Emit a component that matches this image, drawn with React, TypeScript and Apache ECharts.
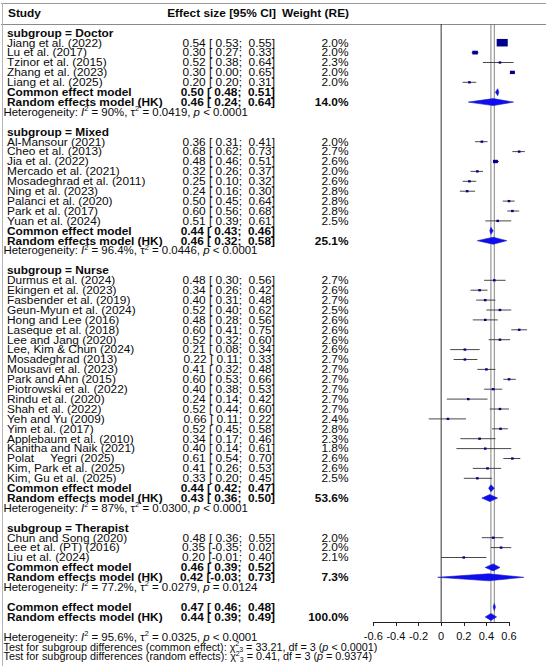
import React, { useEffect, useRef } from "react";
import * as echarts from "echarts";

// ---------------- Doctor ----------------
const doctorNames = ["Jiang et al. (2022)", "Lu et al. (2017)", "Tzinor et al. (2015)", "Zhang et al. (2023)", "Liang et al. (2025)"];
const doctorEst = [0.54, 0.3, 0.52, 0.3, 0.2];
const doctorLo = [0.53, 0.27, 0.38, 0.0, 0.2];
const doctorHi = [0.55, 0.33, 0.64, 0.65, 0.31];
const doctorWeight = [2.0, 2.0, 2.3, 2.0, 2.0];
const doctorPlotEst = [0.54, 0.3, 0.52, 0.63, 0.25];
const doctorPlotLo = [0.53, 0.27, 0.37, 0.61, 0.19];
const doctorPlotHi = [0.55, 0.33, 0.64, 0.65, 0.31];
const doctorCommonWeight = [40, 10, 0.8, 8, 1.5];

// ---------------- Mixed ----------------
const mixedNames = ["Al-Mansour (2021)", "Cheo et al. (2013)", "Jia et al. (2022)", "Mercado et al. (2021)", "Mosadeghrad et al. (2011)", "Ning et al. (2023)", "Palanci et al. (2020)", "Park et al. (2017)", "Yuan et al. (2024)"];
const mixedEst = [0.36, 0.68, 0.48, 0.32, 0.25, 0.24, 0.5, 0.6, 0.51];
const mixedLo = [0.31, 0.62, 0.46, 0.26, 0.1, 0.16, 0.45, 0.56, 0.39];
const mixedHi = [0.41, 0.73, 0.51, 0.37, 0.32, 0.3, 0.64, 0.68, 0.61];
const mixedWeight = [2.0, 2.7, 2.6, 2.0, 2.6, 2.8, 2.8, 2.8, 2.5];
const mixedPlotEst = [0.36, 0.69, 0.48, 0.32, 0.25, 0.23, 0.6, 0.63, 0.5];
const mixedPlotLo = [0.3, 0.63, 0.46, 0.26, 0.19, 0.165, 0.545, 0.585, 0.39];
const mixedPlotHi = [0.41, 0.74, 0.51, 0.37, 0.31, 0.3, 0.65, 0.69, 0.62];
const mixedCommonWeight = [1.6, 1.3, 8, 1.5, 1.3, 1.3, 1.3, 1.3, 0.8];

// ---------------- Nurse ----------------
const nurseNames = ["Durmus et al. (2024)", "Ekingen et al. (2023)", "Fasbender et al. (2019)", "Geun-Myun et al. (2024)", "Hong and Lee (2016)", "Laseque et al. (2018)", "Lee and Jang (2020)", "Lee, Kim & Chun (2024)", "Mosadeghrad (2013)", "Mousavi et al. (2023)", "Park and Ahn (2015)", "Piotrowski et al. (2022)", "Rindu et al. (2020)", "Shah et al. (2022)", "Yeh and Yu (2009)", "Yim et al. (2017)", "Applebaum et al. (2010)", "Kanitha and Naik (2021)", "Polat     Yegri (2025)", "Kim, Park et al. (2025)", "Kim, Gu et al. (2025)"];
const nurseEst = [0.48, 0.34, 0.4, 0.52, 0.48, 0.6, 0.52, 0.21, 0.22, 0.41, 0.6, 0.4, 0.24, 0.52, 0.66, 0.52, 0.34, 0.4, 0.61, 0.41, 0.33];
const nurseLo = [0.3, 0.26, 0.31, 0.4, 0.28, 0.41, 0.32, 0.08, 0.11, 0.32, 0.53, 0.38, 0.14, 0.44, 0.11, 0.45, 0.17, 0.14, 0.54, 0.26, 0.2];
const nurseHi = [0.56, 0.42, 0.48, 0.62, 0.56, 0.75, 0.6, 0.34, 0.33, 0.48, 0.66, 0.53, 0.42, 0.6, 0.22, 0.58, 0.46, 0.61, 0.7, 0.53, 0.45];
const nurseWeight = [2.7, 2.6, 2.7, 2.5, 2.6, 2.6, 2.6, 2.6, 2.7, 2.7, 2.7, 2.7, 2.7, 2.7, 2.4, 2.8, 2.3, 1.8, 2.6, 2.6, 2.5];
const nursePlotEst = [0.47, 0.34, 0.39, 0.52, 0.39, 0.69, 0.52, 0.21, 0.21, 0.4, 0.6, 0.46, 0.24, 0.52, 0.06, 0.525, 0.34, 0.39, 0.63, 0.41, 0.32];
const nursePlotLo = [0.38, 0.26, 0.31, 0.4, 0.28, 0.62, 0.42, 0.08, 0.11, 0.32, 0.55, 0.38, 0.05, 0.43, -0.11, 0.45, 0.17, 0.135, 0.55, 0.28, 0.2];
const nursePlotHi = [0.57, 0.41, 0.48, 0.62, 0.5, 0.76, 0.61, 0.34, 0.32, 0.48, 0.66, 0.54, 0.41, 0.6, 0.22, 0.59, 0.48, 0.62, 0.7, 0.53, 0.45];
const nurseCommonWeight = [1, 1, 1, 1, 1, 1, 1, 1, 1, 1, 1.2, 1, 0.8, 1, 0.8, 1.2, 0.8, 0.6, 1, 1, 1];

// ---------------- Therapist ----------------
const therapistNames = ["Chun and Song (2020)", "Lee et al. (PT) (2016)", "Liu et al. (2024)"];
const therapistEst = [0.48, 0.35, 0.2];
const therapistLo = [0.36, -0.35, -0.01];
const therapistHi = [0.55, 0.02, 0.4];
const therapistWeight = [2.0, 2.0, 2.1];
const therapistPlotEst = [0.46, 0.53, 0.2];
const therapistPlotLo = [0.36, 0.44, 0.0];
const therapistPlotHi = [0.55, 0.62, 0.4];
const therapistCommonWeight = [1, 1, 0.8];

// ---------------- Subgroup summaries ----------------
const subgroupLabels = ["Doctor", "Mixed", "Nurse", "Therapist"];
const commonEst = [0.5, 0.44, 0.44, 0.46];
const commonLo = [0.48, 0.43, 0.42, 0.39];
const commonHi = [0.51, 0.46, 0.47, 0.52];
const randomEst = [0.46, 0.46, 0.43, 0.42];
const randomLo = [0.24, 0.32, 0.36, -0.03];
const randomHi = [0.64, 0.58, 0.5, 0.73];
const randomWeight = [14.0, 25.1, 53.6, 7.3];
const hetI2 = ["90%", "96.4%", "87%", "77.2%"];
const hetTau2 = ["0.0419", "0.0446", "0.0300", "0.0279"];
const hetP = ["< 0.0001", "< 0.0001", "< 0.0001", "= 0.0124"];

// ---------------- Overall ----------------
const overallCommon = [0.47, 0.46, 0.48];
const overallRandom = [0.44, 0.39, 0.49];
const overallWeight = 100.0;
const overallHet = ["95.6%", "0.0325", "< 0.0001"];
const testLabels = ["common effect", "random effects"];
const testChi = ["33.21", "0.41"];
const testDf = [3, 3];
const testP = ["< 0.0001", "= 0.9374"];

// ---------------- axis ----------------
const xTicks = [-0.6, -0.4, -0.2, 0, 0.2, 0.4, 0.6];
const refLines = [0, overallRandom[0], overallCommon[0]];

const groups = [
  { names: doctorNames, est: doctorEst, lo: doctorLo, hi: doctorHi, w: doctorWeight, pe: doctorPlotEst, pl: doctorPlotLo, ph: doctorPlotHi, cw: doctorCommonWeight },
  { names: mixedNames, est: mixedEst, lo: mixedLo, hi: mixedHi, w: mixedWeight, pe: mixedPlotEst, pl: mixedPlotLo, ph: mixedPlotHi, cw: mixedCommonWeight },
  { names: nurseNames, est: nurseEst, lo: nurseLo, hi: nurseHi, w: nurseWeight, pe: nursePlotEst, pl: nursePlotLo, ph: nursePlotHi, cw: nurseCommonWeight },
  { names: therapistNames, est: therapistEst, lo: therapistLo, hi: therapistHi, w: therapistWeight, pe: therapistPlotEst, pl: therapistPlotLo, ph: therapistPlotHi, cw: therapistCommonWeight },
];

const FONT = '"Liberation Sans", Arial, Helvetica, sans-serif';
const SX = 1.08;
const FS = 11;
const FS_HET = 10.4;
const SX_HET = 1.1;
const SX_TEST = 1.04;
const TXT = "#0a0a0a";

const fmtNum = (v: number) => (v < 0 ? "" : " ") + v.toFixed(2);
const fmtCI = (e: number, l: number, h: number) => `${e.toFixed(2)} [${fmtNum(l)}; ${fmtNum(h)}]`;
const fmtW = (w: number) => w.toFixed(1) + "%";
const hetRich = (i2: string, t2: string, p: string) =>
  `{n|Heterogeneity: }{i|I}{s|2}{n| = ${i2}, τ}{s|2}{n| = ${t2}, }{i|p}{n| ${p}}`;

type RowSpec = {
  row: number;
  name?: string;
  bold?: boolean;
  eff?: string;
  weight?: string;
  rich?: string;
  test?: boolean;
  header?: boolean;
};

function buildRows() {
  const rows: RowSpec[] = [];
  const studies: number[][] = [];
  const diamonds: number[][] = [];
  rows.push({ row: 0, header: true });
  let r = 2;
  groups.forEach((g, gi) => {
    rows.push({ row: r, name: "subgroup = " + subgroupLabels[gi], bold: true });
    r++;
    g.names.forEach((nm, i) => {
      rows.push({ row: r, name: nm, eff: fmtCI(g.est[i], g.lo[i], g.hi[i]), weight: fmtW(g.w[i]) });
      studies.push([g.pe[i], g.pl[i], g.ph[i], r, g.cw[i]]);
      r++;
    });
    rows.push({ row: r, name: "Common effect model", bold: true, eff: fmtCI(commonEst[gi], commonLo[gi], commonHi[gi]) });
    diamonds.push([commonEst[gi], commonLo[gi], commonHi[gi], r]);
    rows.push({ row: r + 1, name: "Random effects model (HK)", bold: true, eff: fmtCI(randomEst[gi], randomLo[gi], randomHi[gi]), weight: fmtW(randomWeight[gi]) });
    diamonds.push([randomEst[gi], randomLo[gi], randomHi[gi], r + 1]);
    rows.push({ row: r + 2, rich: hetRich(hetI2[gi], hetTau2[gi], hetP[gi]) });
    r += 4;
  });
  rows.push({ row: r, name: "Common effect model", bold: true, eff: fmtCI(overallCommon[0], overallCommon[1], overallCommon[2]) });
  diamonds.push([overallCommon[0], overallCommon[1], overallCommon[2], r]);
  rows.push({ row: r + 1, name: "Random effects model (HK)", bold: true, eff: fmtCI(overallRandom[0], overallRandom[1], overallRandom[2]), weight: fmtW(overallWeight) });
  diamonds.push([overallRandom[0], overallRandom[1], overallRandom[2], r + 1]);
  rows.push({ row: r + 3, rich: hetRich(overallHet[0], overallHet[1], overallHet[2]) });
  testLabels.forEach((lab, k) => {
    rows.push({
      row: r + 4 + k,
      test: true,
      rich: `{n|Test for subgroup differences (${lab}): χ}{s|2}{b|${testDf[k]}}{n| = ${testChi[k]}, df = ${testDf[k]} (}{i|p}{n| ${testP[k]})}`,
    });
  });
  return { rows, studies, diamonds };
}

export default function App() {
  const ref = useRef<HTMLDivElement>(null);
  useEffect(() => {
    if (!ref.current) return;
    const chart = echarts.init(ref.current, null, { renderer: "svg" });
    const { rows, studies, diamonds } = buildRows();

    const ROW0_Y = 13;
    const ROW_H = 9.9;
    const GRID_TOP = 24;
    const GRID_BOTTOM_Y = 622;
    const yMin = (GRID_TOP - ROW0_Y) / ROW_H;
    const yMax = (GRID_BOTTOM_Y - ROW0_Y) / ROW_H;

    const X_NAME = 7;
    const X_EFF = 275;
    const X_W = 348.5;
    const X_HET = 3.5;

    const richStyles = {
      n: { fontSize: FS_HET, fontFamily: FONT, fill: TXT, lineHeight: 13 },
      i: { fontSize: FS_HET, fontFamily: FONT, fill: TXT, fontStyle: "italic", lineHeight: 13 },
      s: { fontSize: 6.8, fontFamily: FONT, fill: TXT, verticalAlign: "top", lineHeight: 13 },
      b: { fontSize: 6.8, fontFamily: FONT, fill: TXT, verticalAlign: "bottom", lineHeight: 13 },
    };

    const mkText = (x: number, y: number, text: string, align: string, bold: boolean, size = FS) => ({
      type: "text",
      x,
      y,
      scaleX: SX,
      style: {
        text,
        fill: TXT,
        fontSize: size,
        fontFamily: FONT,
        fontWeight: bold ? "bold" : "normal",
        align,
        verticalAlign: "middle",
      },
    });

    const option: any = {
      animation: false,
      backgroundColor: "#ffffff",
      grid: { left: 373.3, width: 135.7, top: GRID_TOP, height: GRID_BOTTOM_Y - GRID_TOP, containLabel: false },
      xAxis: {
        type: "value",
        min: xTicks[0],
        max: xTicks[xTicks.length - 1],
        interval: 0.2,
        axisLine: { show: true, lineStyle: { color: "#222", width: 1 } },
        axisTick: { show: true, length: 4, lineStyle: { color: "#222", width: 1 } },
        axisLabel: {
          color: TXT,
          fontSize: 11,
          fontFamily: FONT,
          margin: 8,
          formatter: (v: number) => (Math.abs(v) < 1e-9 ? "0" : String(Math.round(v * 10) / 10)),
        },
        splitLine: { show: false },
      },
      yAxis: { type: "value", min: yMin, max: yMax, inverse: true, show: false, splitLine: { show: false } },
      graphic: [
        { type: "line", shape: { x1: 1, y1: 3.5, x2: 546, y2: 3.5 }, style: { stroke: "#9a9a9a", lineWidth: 1 } },
        { type: "line", shape: { x1: 1, y1: 24.5, x2: 546, y2: 24.5 }, style: { stroke: "#8a8a8a", lineWidth: 1 } },
        { type: "line", shape: { x1: 2.5, y1: 3, x2: 2.5, y2: 666 }, style: { stroke: "#b5b5b5", lineWidth: 1 } },
      ],
      series: [
        {
          type: "custom",
          name: "refLines",
          data: refLines.map((v) => [v]),
          encode: { x: 0 },
          silent: true,
          renderItem: (params: any, api: any) => {
            const v = api.value(0);
            const top = api.coord([v, yMin]);
            const bot = api.coord([v, yMax]);
            return {
              type: "line",
              shape: { x1: top[0], y1: top[1], x2: bot[0], y2: bot[1] },
              style: { stroke: v === 0 ? "#333" : "#666", lineWidth: v === 0 ? 1 : 0.8 },
            };
          },
        },
        {
          type: "custom",
          name: "studies",
          data: studies,
          encode: { x: 0, y: 3 },
          silent: true,
          renderItem: (params: any, api: any) => {
            const est = api.value(0);
            const lo = api.value(1);
            const hi = api.value(2);
            const row = api.value(3);
            const cw = api.value(4);
            const p = api.coord([est, row]);
            const a = api.coord([lo, row]);
            const b = api.coord([hi, row]);
            const s = 1.75 * Math.sqrt(cw);
            const w = Math.max(2.6, s);
            const h = Math.max(2.3, 0.68 * s);
            return {
              type: "group",
              children: [
                { type: "line", shape: { x1: a[0], y1: p[1], x2: b[0], y2: p[1] }, style: { stroke: "#333", lineWidth: 0.9 } },
                { type: "rect", shape: { x: p[0] - w / 2, y: p[1] - h / 2, width: w, height: h }, style: { fill: "#00008B" } },
              ],
            };
          },
        },
        {
          type: "custom",
          name: "diamonds",
          data: diamonds,
          encode: { x: 0, y: 3 },
          silent: true,
          renderItem: (params: any, api: any) => {
            const est = api.value(0);
            const lo = api.value(1);
            const hi = api.value(2);
            const row = api.value(3);
            const p = api.coord([est, row]);
            const a = api.coord([lo, row]);
            const b = api.coord([hi, row]);
            const hh = 3.5;
            return {
              type: "polygon",
              shape: { points: [[a[0], p[1]], [p[0], p[1] - hh], [b[0], p[1]], [p[0], p[1] + hh]] },
              style: { fill: "#0d0df0", stroke: "#1a1ac0", lineWidth: 0.6 },
            };
          },
        },
        {
          type: "custom",
          name: "texts",
          data: rows.map((r, i) => [0, r.row, i]),
          encode: { x: 0, y: 1 },
          silent: true,
          renderItem: (params: any, api: any) => {
            const spec = rows[api.value(2)];
            const y = api.coord([0, spec.row])[1];
            const children: any[] = [];
            if (spec.header) {
              children.push(mkText(8, y, "Study", "left", true));
              children.push(mkText(276, y, "Effect size [95% CI]", "right", true));
              children.push(mkText(349, y, "Weight (RE)", "right", true));
            } else if (spec.rich) {
              children.push({
                type: "text",
                x: X_HET,
                y,
                scaleX: spec.test ? SX_TEST : SX_HET,
                style: { text: spec.rich, rich: richStyles, fill: TXT, fontSize: FS_HET, fontFamily: FONT, align: "left", verticalAlign: "middle" },
              });
            } else {
              if (spec.name) children.push(mkText(X_NAME, y, spec.name, "left", !!spec.bold));
              if (spec.eff) children.push(mkText(X_EFF, y, spec.eff, "right", !!spec.bold));
              if (spec.weight) children.push(mkText(X_W, y, spec.weight, "right", !!spec.bold));
            }
            return { type: "group", children };
          },
        },
      ],
    };
    chart.setOption(option);
    return () => chart.dispose();
  }, []);
  return <div ref={ref} style={{ position: "fixed", left: 0, top: 0, width: 550, height: 666, background: "#fff" }} />;
}
